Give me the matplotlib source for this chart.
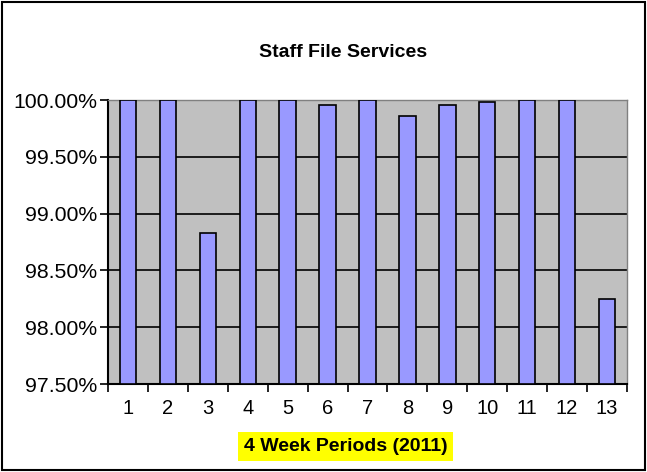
import matplotlib
matplotlib.use('Agg')
import matplotlib.pyplot as plt
from matplotlib.patches import Rectangle
from matplotlib.ticker import FuncFormatter

periods = [str(i) for i in range(1, 14)]
pct = [100.0, 100.0, 98.83, 100.0, 100.0, 99.96, 100.0, 99.86, 99.96, 99.98, 100.0, 100.0, 98.25]
yticks = [97.5, 98.0, 98.5, 99.0, 99.5, 100.0]

plt.rcParams['font.family'] = ['Liberation Sans', 'DejaVu Sans']

fig = plt.figure(figsize=(6.47, 4.72), dpi=100)
ax = fig.add_axes([108 / 647, 1 - 384 / 472, (627 - 108) / 647, (384 - 100) / 472])

x = list(range(len(periods)))
ax.bar(x, [v - 97.5 for v in pct], bottom=97.5, width=0.41,
       color='#9999FF', edgecolor='black', linewidth=1.2, zorder=3)

ax.set_facecolor('#C0C0C0')
ax.set_xlim(-0.5, len(periods) - 0.5)
ax.set_ylim(97.5, 100.0)
ax.set_yticks(yticks)
ax.yaxis.set_major_formatter(FuncFormatter(lambda v, p: f'{v:.2f}%'))
ax.grid(axis='y', color='black', linewidth=1.2, zorder=1)
ax.set_axisbelow(True)

# category ticks sit between bars
ax.set_xticks([i - 0.5 for i in range(len(periods) + 1)], minor=False)
ax.set_xticklabels([])
ax.set_xticks(x, minor=True)
ax.set_xticklabels(periods, minor=True)
ax.tick_params(axis='x', which='major', direction='out', length=6, width=1.2)
ax.tick_params(axis='x', which='minor', length=0, labelsize=14.5, pad=11)
ax.tick_params(axis='y', direction='out', length=6, width=1.2, labelsize=15.3, pad=2)

for side in ['top', 'right']:
    ax.spines[side].set_color('#808080')
    ax.spines[side].set_linewidth(1)
for side in ['left', 'bottom']:
    ax.spines[side].set_color('black')
    ax.spines[side].set_linewidth(1.5)

fig.text(343 / 647, 1 - 57 / 472, 'Staff File Services', ha='center', va='baseline',
         fontsize=14, fontweight='bold')
fig.text(345.5 / 647, 1 - 451 / 472, '4 Week Periods (2011)', ha='center', va='baseline',
         fontsize=14, fontweight='bold',
         bbox=dict(boxstyle='square,pad=0.3', facecolor='#FFFF00', edgecolor='none'))

fig.patches.append(Rectangle((2 / 647, 2 / 472), 643 / 647, 468 / 472, transform=fig.transFigure,
                             fill=False, edgecolor='black', linewidth=1.5))

fig.savefig('out.png', dpi=100)
